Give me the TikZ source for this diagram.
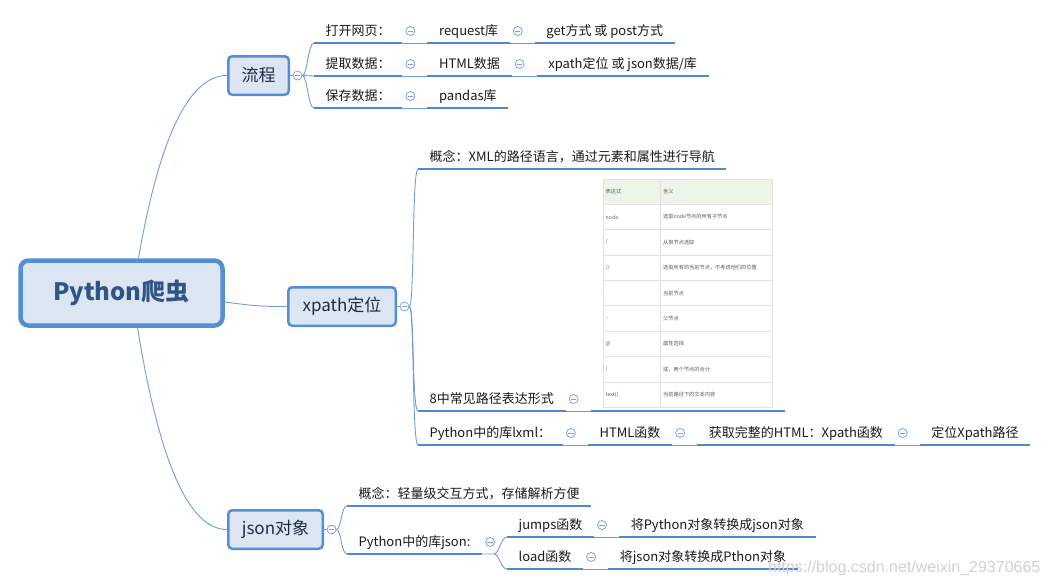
\documentclass[tikz,border=0pt]{standalone}
\usepackage{fontspec}
\setmainfont{Noto Sans CJK SC}
\newfontfamily\wmfont{Liberation Sans}
\usetikzlibrary{positioning}

\definecolor{boxfill}{RGB}{220,230,242}
\definecolor{boxline}{RGB}{85,142,213}
\definecolor{rootblue}{RGB}{47,84,138}
\definecolor{boxtext}{RGB}{30,45,70}
\definecolor{lineblue}{RGB}{84,136,206}
\definecolor{linkblue}{RGB}{112,156,216}
\definecolor{foldblue}{RGB}{125,163,218}
\definecolor{headgreen}{RGB}{237,245,233}
\definecolor{gridgray}{RGB}{225,225,225}

\tikzset{
  rootbox/.style={draw=boxline, line width=4.5pt, fill=boxfill, rounded corners=8pt,
    minimum width=202pt, minimum height=65pt, text=rootblue,
    font=\fontsize{24pt}{28pt}\selectfont\bfseries},
  branch/.style={draw=boxline, line width=2.5pt, fill=boxfill, rounded corners=4pt,
    minimum height=38.5pt, text=boxtext, font=\fontsize{17pt}{20pt}\selectfont},
  uline/.style={draw=lineblue, line width=2.8pt},
  topic/.style={font=\fontsize{13pt}{15pt}\selectfont, text=black!90,
    text height=11pt, text depth=2pt, inner xsep=11.5pt, inner ysep=5pt,
    append after command={(\tikzlastnode.south west) edge[uline] (\tikzlastnode.south east)}},
  link/.style={draw=linkblue, line width=0.9pt},
  fold/.style={circle, draw=foldblue, line width=0.8pt, fill=white, minimum size=9pt, inner sep=0pt,
    path picture={\draw[foldblue, line width=0.8pt]
      ([xshift=-2.6pt]path picture bounding box.center) -- ([xshift=2.6pt]path picture bounding box.center);}},
  brace/.style={to path={.. controls +(5pt,0pt) and +(-6pt,0pt) .. (\tikztotarget)}},
  cell/.style={anchor=west, inner sep=0pt, text=black!65, font=\fontsize{5.2pt}{6pt}\selectfont},
  node distance=25pt
}

\begin{document}
\begin{tikzpicture}[x=1pt, y=-1pt]
  \useasboundingbox (0,0) rectangle (1050,587);

  % main topics
  \node[rootbox] (root) at (121.5,293) {Python爬虫};
  \node[branch, minimum width=60.5pt] (flow) at (258.5,75.5) {流程};
  \node[branch, minimum width=107.5pt] (xbox) at (342,306.5) {xpath定位};
  \node[branch, minimum width=94.5pt] (jbox) at (275.5,529.5) {json对象};

  \node[fold] (ffold) at ([xshift=7.5pt]flow.east) {};
  \node[fold] (xfold) at ([xshift=7.5pt]xbox.east) {};
  \node[fold] (jfold) at ([xshift=7.5pt]jbox.east) {};

  \draw[link] ([xshift=17pt]root.north) .. controls +(21pt,121pt) and +(-38pt,0pt) .. (flow.west);
  \draw[link] ([yshift=-9pt]root.east) .. controls +(30pt,-4pt) and +(-25pt,0pt) .. (xbox.west);
  \draw[link] ([xshift=16pt]root.south) .. controls +(22pt,-135pt) and +(-38pt,0pt) .. (jbox.west);
  \draw[link] (flow) -- (ffold);
  \draw[link] (xbox) -- (xfold);
  \draw[link] (jbox) -- (jfold);

  % 流程
  \node[topic, anchor=south west] (open) at (314,43) {打开网页：};
  \node[topic, right=of open] (req) {request库};
  \node[topic, right=of req] (getpost) {get方式 或 post方式};
  \node[topic, anchor=south west] (fetch) at (314,76) {提取数据：};
  \node[topic, right=of fetch] (htmldata) {HTML数据};
  \node[topic, right=of htmldata] (xpjs) {xpath定位 或 json数据/库};
  \node[topic, anchor=south west] (save) at (314,108) {保存数据：};
  \node[topic, right=of save] (pandas) {pandas库};

  \node[fold] (o1) at ([shift={(8pt,12pt)}]open.south east) {};
  \node[fold] (o2) at ([shift={(8pt,12pt)}]req.south east) {};
  \node[fold] (f1) at ([shift={(8pt,12pt)}]fetch.south east) {};
  \node[fold] (f2) at ([shift={(8pt,12pt)}]htmldata.south east) {};
  \node[fold] (s1) at ([shift={(8pt,12pt)}]save.south east) {};

  \draw[link] (ffold.east) to[brace] (open.south west);
  \draw[link] (ffold.east) to[brace] (fetch.south west);
  \draw[link] (ffold.east) to[brace] (save.south west);
  \draw[link] (open.south east) -- (req.south west);
  \draw[link] (req.south east) -- (getpost.south west);
  \draw[link] (fetch.south east) -- (htmldata.south west);
  \draw[link] (htmldata.south east) -- (xpjs.south west);
  \draw[link] (save.south east) -- (pandas.south west);

  % xpath定位
  \node[topic, anchor=south west] (concept1) at (418,169) {概念：XML的路径语言，通过元素和属性进行导航};
  \node[topic, anchor=south west] (common) at (418,411) {8中常见路径表达形式};
  \node[inner sep=0pt, minimum width=194pt, minimum height=236pt, anchor=south west]
    (tbl) at ([xshift=25pt]common.south east) {};
  \node[topic, anchor=south west] (lxml) at (418,445) {Python中的库lxml：};
  \node[topic, right=of lxml] (htmlfun) {HTML函数};
  \node[topic, right=of htmlfun] (fullhtml) {获取完整的HTML：Xpath函数};
  \node[topic, right=of fullhtml] (locate) {定位Xpath路径};

  % table of path expressions
  \fill[headgreen] (603,179) rectangle (772,204.3);
  \draw[gridgray, line width=0.6pt] (603,179) rectangle (772,407);
  \foreach \k in {0,...,7}
    \draw[gridgray, line width=0.6pt] (603,204.3+25.37*\k) -- (772,204.3+25.37*\k);
  \draw[gridgray, line width=0.6pt] (660,179) -- (660,407);
  \node[cell] (ha) at (605.5,191.6) {表达式};
  \node[cell] (hb) at (663,191.6) {含义};
  \foreach \a [count=\i] in {{node},{/},{//},{.},{..},{@},{|},{text()}}
    \node[cell] (ca\i) at (605.5,191.6+25.37*\i) {\a};
  \foreach \b [count=\i] in {选取node节点的所有子节点,从根节点选取,选取所有的当前节点，不考虑他们的位置,
      当前节点,父节点,属性选择,或，两个节点的合计,当前路径下的文本内容}
    \node[cell] (cb\i) at (663,191.6+25.37*\i) {\b};
  \draw[uline] (tbl.south west) -- (tbl.south east);

  \node[fold] (c1) at ([shift={(8pt,12pt)}]common.south east) {};
  \node[fold] (l1) at ([shift={(8pt,12pt)}]lxml.south east) {};
  \node[fold] (l2) at ([shift={(8pt,12pt)}]htmlfun.south east) {};
  \node[fold] (l3) at ([shift={(8pt,12pt)}]fullhtml.south east) {};

  \draw[link] (xfold.east) to[brace] (concept1.south west);
  \draw[link] (xfold.east) to[brace] (common.south west);
  \draw[link] (xfold.east) to[brace] (lxml.south west);
  \draw[link] (common.south east) -- (tbl.south west);
  \draw[link] (lxml.south east) -- (htmlfun.south west);
  \draw[link] (htmlfun.south east) -- (fullhtml.south west);
  \draw[link] (fullhtml.south east) -- (locate.south west);

  % json对象
  \node[topic, anchor=south west] (concept2) at (347,506) {概念：轻量级交互方式，存储解析方便};
  \node[topic, anchor=south west] (pyjson) at (347,554) {Python中的库json:};
  \node[topic, anchor=south west] (jumps) at (507,537) {jumps函数};
  \node[topic, right=of jumps] (tojson) {将Python对象转换成json对象};
  \node[topic, anchor=south west] (loadf) at (507,569) {load函数};
  \node[topic, right=of loadf] (topy) {将json对象转换成Pthon对象};
  \coordinate[right=12pt of pyjson.south east] (pjfork);

  \node[fold] (p1) at ([shift={(8pt,12pt)}]pyjson.south east) {};
  \node[fold] (j1) at ([shift={(8pt,12pt)}]jumps.south east) {};
  \node[fold] (d1) at ([shift={(8pt,12pt)}]loadf.south east) {};

  \draw[link] (jfold.east) to[brace] (concept2.south west);
  \draw[link] (jfold.east) to[brace] (pyjson.south west);
  \draw[link] (pyjson.south east) -- (pjfork) to[brace] (jumps.south west);
  \draw[link] (pjfork) to[brace] (loadf.south west);
  \draw[link] (jumps.south east) -- (tojson.south west);
  \draw[link] (loadf.south east) -- (topy.south west);

  \node[anchor=west, inner sep=0pt, text=black!18, font=\wmfont\fontsize{16pt}{18pt}\selectfont]
    (wm) at (768,568) {https://blog.csdn.net/weixin\_29370665};
\end{tikzpicture}
\end{document}
